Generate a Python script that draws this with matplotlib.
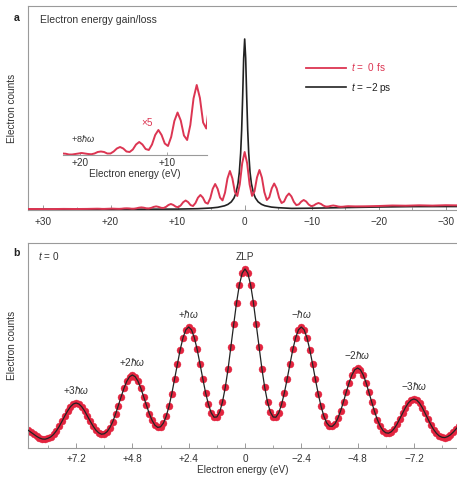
import numpy as np
import matplotlib
matplotlib.use('Agg')
import matplotlib.pyplot as plt
from matplotlib.lines import Line2D

plt.rcParams['font.family'] = ['Liberation Sans', 'DejaVu Sans']
plt.rcParams['mathtext.fontset'] = 'custom'
plt.rcParams['mathtext.rm'] = 'Liberation Sans'
plt.rcParams['mathtext.it'] = 'Liberation Sans:italic'

# ---------------- data: panel a ----------------
a_energy_dense = np.linspace(-15.4, 22.0, 103)
a_red_dense = [3.8, 3.6, 3.3, 3.2, 3.5, 4.1, 4.5,
               4.1, 3.5, 3.4, 4.4, 6.1, 7.0,
               6.0, 4.4, 3.9, 5.5, 8.5, 10.0,
               8.4, 5.6, 4.9, 8.1, 13.6, 16.5,
               13.6, 8.4, 7.0, 12.2, 21.6, 26.5,
               21.6, 12.7, 10.0, 17.9, 32.4, 40.0,
               32.5, 18.7, 14.1, 25.6, 46.8, 58.0,
               46.8, 25.5, 14.0, 18.2, 31.6, 39.0,
               31.5, 17.3, 9.6, 12.4, 21.2, 26.0,
               21.1, 11.7, 6.3, 7.5, 12.4, 15.0,
               12.3, 7.0, 4.0, 4.9, 7.9, 9.5,
               7.8, 4.6, 2.8, 3.3, 5.0, 6.0,
               5.0, 3.1, 2.0, 2.2, 3.1, 3.6,
               3.1, 2.1, 1.6, 1.7, 2.3, 2.6,
               2.3, 1.7, 1.3, 1.3, 1.6, 1.7,
               1.6, 1.3, 1.15, 1.2, 1.3, 1.4,
               1.3, 1.2, 1.1, 1.1, 1.25, 1.3]
a_energy_loss_tail = [-32.0, -30.0, -28.0, -26.0, -24.0, -22.0, -20.0, -18.0, -16.5]
a_red_loss_tail = [4.6, 4.8, 4.4, 4.7, 4.3, 4.5, 4.0, 3.7, 3.6]
a_energy_gain_tail = [23.5, 25.0, 27.0, 29.0, 31.0, 32.5]
a_red_gain_tail = [1.1, 1.0, 1.1, 0.9, 1.0, 1.0]

a_black_energy = [-32, -25, -20, -15, -10, -7, -5, -4, -3, -2.5, -2, -1.6, -1.3, -1.0,
                  -0.8, -0.6, -0.45, -0.3, -0.15, 0, 0.15, 0.3, 0.45, 0.6, 0.8, 1.0,
                  1.3, 1.6, 2, 2.5, 3, 4, 5, 7, 10, 15, 20, 25, 32.5]
a_black_counts = [3.5, 3.4, 3.0, 2.4, 1.8, 1.6, 2.3, 2.9, 4.3, 5.7, 8.2, 12.0, 17.1, 26.5,
                  37.7, 57.0, 80.0, 113.6, 151.8, 171.0, 151.8, 113.5, 80.0, 57.0, 37.6, 26.4,
                  17.0, 11.9, 8.1, 5.6, 4.2, 2.7, 2.0, 1.3, 0.9, 0.8, 0.8, 0.8, 0.8]

a_ticks = [30, 20, 10, 0, -10, -20, -30]
a_tick_labels = ['+30', '+20', '+10', '0', '\u221210', '\u221220', '\u221230']
a_minor = [25, 15, 5, -5, -15, -25]
inset_ticks = [20, 10]
inset_tick_labels = ['+20', '+10']
inset_scale = 5
legend_labels = ['$t$ =  0 fs', '$t$ = \u22122 ps']

# ---------------- data: panel b ----------------
b_energy = np.round(np.arange(-76, 78) * 0.12, 2)
b_counts = [22.5, 19.1, 15.9, 13.2, 11.4, 10.4, 10.7, 12.0, 14.7, 18.5, 23.3, 29.0, 34.8, 40.3, 44.9, 47.9, 49.0,
            47.9, 44.9, 40.4, 34.9, 29.2, 23.8, 19.4, 16.3, 14.8, 15.2, 17.5, 22.0, 28.5, 36.6, 46.2, 56.0, 65.4, 73.1, 78.2, 80.0,
            78.2, 73.1, 65.4, 56.2, 46.5, 37.3, 29.8, 24.4, 21.6, 21.9, 25.2, 32.0, 41.9, 54.3, 68.9, 84.1, 98.4, 110.4, 118.2, 121.0,
            118.2, 110.4, 98.6, 84.3, 69.4, 55.3, 43.7, 35.2, 30.8, 31.0, 35.9, 46.0, 60.7, 79.3, 101.2, 123.8, 145.3, 163.1, 174.8, 179.0,
            174.8, 163.1, 145.3, 123.8, 101.2, 79.3, 60.7, 46.0, 35.9, 31.0, 30.8, 35.2, 43.7, 55.3, 69.4, 84.3, 98.6, 110.4, 118.2, 121.0,
            118.2, 110.4, 98.5, 84.0, 68.9, 54.3, 41.7, 31.7, 24.8, 21.2, 20.6, 22.8, 27.6, 34.4, 42.7, 51.4, 59.8, 66.7, 71.3, 73.0,
            71.3, 66.7, 59.7, 51.2, 42.3, 33.7, 26.2, 20.4, 16.3, 14.2, 13.8, 15.2, 18.0, 22.1, 26.9, 32.1, 37.2, 41.3, 44.0, 45.0,
            44.0, 41.3, 37.1, 32.1, 26.7, 21.6, 17.2, 13.6, 11.1, 9.7, 8.8, 9.0, 10.0, 11.6, 13.6, 15.7, 17.7]
b_ticks = [7.2, 4.8, 2.4, 0, -2.4, -4.8, -7.2]
b_tick_labels = ['+7.2', '+4.8', '+2.4', '0', '\u22122.4', '\u22124.8', '\u22127.2']
b_minor = [8.4, 6.0, 3.6, 1.2, -1.2, -3.6, -6.0, -8.4]
b_peak_energy = [7.2, 4.8, 2.4, 0, -2.4, -4.8, -7.2]
b_peak_labels = ['+3$\\hbar\\omega$', '+2$\\hbar\\omega$', '+$\\hbar\\omega$', 'ZLP',
                 '\u2212$\\hbar\\omega$', '\u22122$\\hbar\\omega$', '\u22123$\\hbar\\omega$']

# ---------------- style ----------------
RED = '#dc3552'
DOT = '#e3243f'
DARK = '#222222'
SPINE = '#9a9a9a'
TXT = '#333333'
FS = 7.2

W, H = 457, 482
fig = plt.figure(figsize=(W / 100, H / 100), dpi=100)


def box(l, t, r, b):
    return [l / W, 1 - b / H, (r - l) / W, (b - t) / H]


def style(ax):
    for s in ax.spines.values():
        s.set_color(SPINE)
        s.set_linewidth(0.8)
    ax.spines['right'].set_visible(False)
    ax.set_yticks([])
    ax.tick_params(axis='x', which='both', direction='in', colors=SPINE,
                   labelcolor=TXT, labelsize=FS)
    ax.tick_params(axis='x', which='major', length=3.5, width=0.7)
    ax.tick_params(axis='x', which='minor', length=2, width=0.6)


# ---------------- panel a ----------------
axa = fig.add_axes(box(28, 6, 458, 210))
style(axa)
red_e = np.concatenate([a_energy_loss_tail, a_energy_dense, a_energy_gain_tail])
red_c = np.concatenate([a_red_loss_tail, a_red_dense, a_red_gain_tail])
axa.plot(a_black_energy, a_black_counts, color=DARK, lw=1.2, zorder=2)
axa.plot(red_e, red_c, color=RED, lw=1.4, zorder=3)
axa.set_xlim(32.3, -31.8)
axa.set_ylim(0, 204)
axa.set_xticks(a_ticks)
axa.set_xticklabels(a_tick_labels)
axa.set_xticks(a_minor, minor=True)
axa.tick_params(axis='x', pad=5)
axa.set_ylabel('Electron counts', fontsize=FS, color=TXT, labelpad=8)
axa.text(0.028, 0.93, 'Electron energy gain/loss', transform=axa.transAxes,
         fontsize=FS + 0.3, color=TXT, va='center', ha='left')
handles = [Line2D([], [], color=RED, lw=1.3), Line2D([], [], color=DARK, lw=1.2)]
leg = axa.legend(handles, legend_labels, loc='upper left', bbox_to_anchor=(0.6457, 0.73),
                 frameon=False, fontsize=FS, handlelength=4.0, handletextpad=0.5,
                 labelspacing=0.75, borderpad=0, borderaxespad=0)
leg.get_texts()[0].set_color(RED)
leg.get_texts()[1].set_color(DARK)

# inset (x5 gain side)
axi = fig.add_axes(box(63, 75, 207, 155))
axi.patch.set_visible(False)
for k in ['top', 'right', 'left']:
    axi.spines[k].set_visible(False)
axi.spines['bottom'].set_color(SPINE)
axi.spines['bottom'].set_linewidth(0.8)
axi.plot(red_e, inset_scale * red_c, color=RED, lw=1.4)
axi.set_xlim(21.95, 5.42)
axi.set_ylim(5, 85)
axi.set_yticks([])
axi.set_xticks(inset_ticks)
axi.set_xticklabels(inset_tick_labels)
axi.tick_params(axis='x', direction='in', length=2.5, width=0.6, colors=SPINE,
                labelcolor=TXT, labelsize=FS, pad=2)
axi.set_xlabel('Electron energy (eV)', fontsize=FS, color=TXT, labelpad=1)
axi.text(0.583, 0.40, '\u00d75', transform=axi.transAxes, color=RED, fontsize=FS,
         ha='center', va='center')
axi.text(0.14, 0.21, '+8$\\hbar\\omega$', transform=axi.transAxes, color=TXT,
         fontsize=FS - 0.6, ha='center', va='center')

# ---------------- panel b ----------------
axb = fig.add_axes(box(28, 243, 458, 448))
style(axb)
axb.plot(b_energy, b_counts, 'o', color=DOT, ms=5.0, mec=DOT, mew=0.3, zorder=2)
axb.plot(b_energy, b_counts, '-', color=DARK, lw=0.9, zorder=3)
axb.set_xlim(9.25, -9.08)
axb.set_ylim(0, 205)
axb.set_xticks(b_ticks)
axb.set_xticklabels(b_tick_labels)
axb.set_xticks(b_minor, minor=True)
axb.tick_params(axis='x', pad=4)
axb.set_xlabel('Electron energy (eV)', fontsize=FS, color=TXT, labelpad=1)
axb.set_ylabel('Electron counts', fontsize=FS, color=TXT, labelpad=8)
axb.text(0.023, 0.937, '$t$ = 0', transform=axb.transAxes, fontsize=FS,
         color=TXT, va='center', ha='left')
for e, lab in zip(b_peak_energy, b_peak_labels):
    yv = np.interp(e, b_energy, b_counts)
    axb.annotate(lab, (e, yv), xytext=(0, 5), textcoords='offset points',
                 ha='center', va='bottom', fontsize=FS, color=TXT)

fig.text(17 / W, 1 - 18 / H, 'a', fontsize=FS + 0.5, fontweight='bold',
         ha='center', va='center', color='#222')
fig.text(17 / W, 1 - 253 / H, 'b', fontsize=FS + 0.5, fontweight='bold',
         ha='center', va='center', color='#222')

fig.savefig('out.png', dpi=100)
